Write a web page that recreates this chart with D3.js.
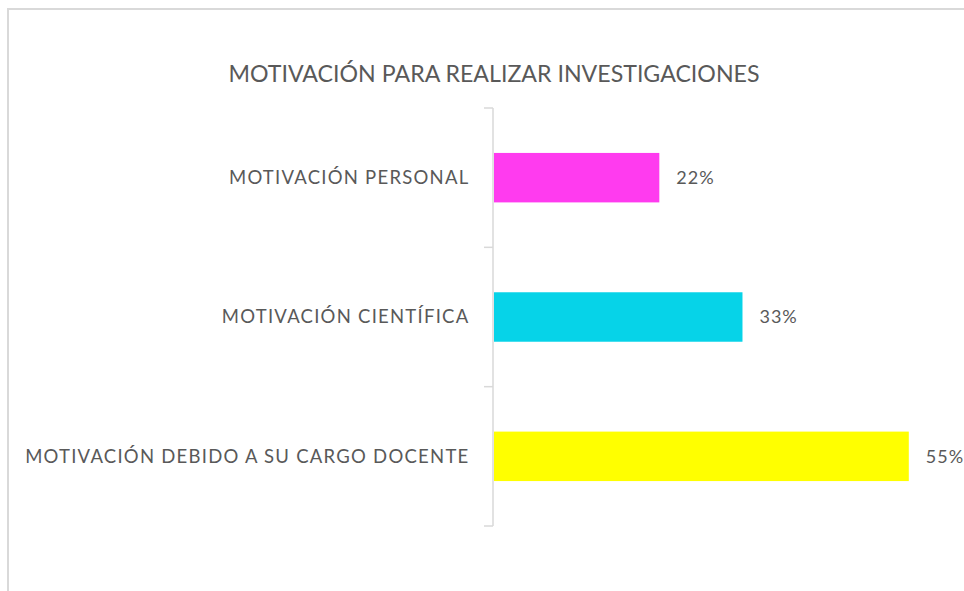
<!DOCTYPE html>
<html><head><meta charset="utf-8">
<script src="https://cdn.jsdelivr.net/npm/d3@7"></script>
<style>html,body{margin:0;padding:0;background:#fff;}svg{display:block;}</style>
</head><body>
<script>
const title = "MOTIVACIÓN PARA REALIZAR INVESTIGACIONES";
const categories = ["MOTIVACIÓN PERSONAL", "MOTIVACIÓN CIENTÍFICA", "MOTIVACIÓN DEBIDO A SU CARGO DOCENTE"];
const values = [0.22, 0.33, 0.55];
const valueLabels = ["22%", "33%", "55%"];
const colors = ["#FF3BEF", "#06D3E8", "#FFFF00"];

const W = 964, H = 591;
const svg = d3.select("body").append("svg").attr("width", W).attr("height", H);
const font = "Lato, 'Open Sans', sans-serif";
const textColor = "#595959";

// chart frame
svg.append("rect").attr("x", 8).attr("y", 9).attr("width", 1000).attr("height", 700)
  .attr("fill", "none").attr("stroke", "#d9d9d9").attr("stroke-width", 2);

svg.append("text").attr("x", 494).attr("y", 82).attr("text-anchor", "middle")
  .attr("font-family", font).attr("font-size", 23).attr("fill", textColor)
  .attr("textLength", 531).attr("lengthAdjust", "spacingAndGlyphs")
  .text(title);

const x0 = 493;
const x = d3.scaleLinear().domain([0, 0.6]).range([x0, x0 + 453.6]);
const y = d3.scaleBand().domain(categories).range([108, 526]).padding(0);

// axis line and boundary ticks
const axis = svg.append("g").attr("stroke", "#d9d9d9").attr("stroke-width", 1.5);
axis.append("line").attr("x1", x0).attr("x2", x0).attr("y1", y.range()[0]).attr("y2", y.range()[1]);
const bounds = categories.map(c => y(c)).concat([y.range()[1]]);
axis.selectAll("line.tick").data(bounds).join("line").attr("class", "tick")
  .attr("x1", x0 - 9).attr("x2", x0).attr("y1", d => d).attr("y2", d => d);

const bh = y.bandwidth() * 0.355;
svg.selectAll("rect.bar").data(categories).join("rect").attr("class", "bar")
  .attr("x", x(0) + 1)
  .attr("y", d => y(d) + y.bandwidth() / 2 - bh / 2)
  .attr("width", (d, i) => x(values[i]) - x(0) - 1)
  .attr("height", bh)
  .attr("fill", (d, i) => colors[i]);

svg.selectAll("text.cat").data(categories).join("text").attr("class", "cat")
  .attr("x", 469.5).attr("y", d => y(d) + y.bandwidth() / 2)
  .attr("dy", "0.35em").attr("text-anchor", "end")
  .attr("font-family", font).attr("font-size", 18.5).attr("fill", textColor)
  .attr("letter-spacing", 1.25)
  .text(d => d);

svg.selectAll("text.val").data(categories).join("text").attr("class", "val")
  .attr("x", (d, i) => x(values[i]) + 17).attr("y", d => y(d) + y.bandwidth() / 2)
  .attr("dy", "0.35em")
  .attr("font-family", font).attr("font-size", 18).attr("fill", textColor)
  .attr("letter-spacing", 1)
  .text((d, i) => valueLabels[i]);
</script>
</body></html>
